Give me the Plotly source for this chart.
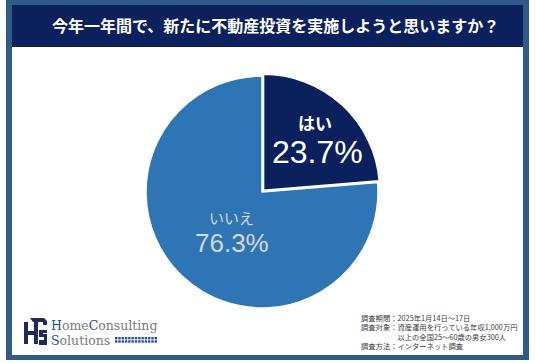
import plotly.graph_objects as go

W, H = 536, 363

title = "今年一年間で、新たに不動産投資を実施しようと思いますか？"
labels = ["はい", "いいえ"]
values = [23.7, 76.3]
colors = ["#0b215e", "#2e75b6"]
footer_lines = [
    "調査期間：2025年1月14日～17日",
    "調査対象：資産運用を行っている年収1,000万円",
    "　　　　　以上の全国25～60歳の男女300人",
    "調査方法：インターネット調査",
]

STEEL = "#2f5b89"
NAVY = "#0b215e"


def px(x):
    return x / W


def py(y):
    return 1 - y / H


def rect(x0, y0, x1, y1, color, layer="below"):
    return dict(type="rect", xref="paper", yref="paper",
                x0=px(x0), x1=px(x1), y0=py(y1), y1=py(y0),
                fillcolor=color, line=dict(width=0), layer=layer)


fig = go.Figure()

# pie geometry (pixels)
cx, cy, r, pull = 262, 192, 116, 0.02
half = r * (1 + pull)
fig.add_trace(go.Pie(
    labels=labels, values=values, sort=False, direction="clockwise",
    rotation=0, pull=[pull, 0], textinfo="none", hoverinfo="label+percent",
    marker=dict(colors=colors, line=dict(color="white", width=1.5)),
    domain=dict(x=[px(cx - half), px(cx + half)], y=[py(cy + half), py(cy - half)]),
    showlegend=False,
))

shapes = [
    rect(6, 0, 529, 360, STEEL),
    rect(12, 5, 523, 47, NAVY),
    rect(12, 47, 523, 355, "white"),
]

# logo grid of small squares
for row in range(2):
    for col in range(13):
        x0 = 115 + col * 3.3
        y0 = 337 + row * 3.3
        shapes.append(rect(x0, y0, x0 + 2.4, y0 + 2.4, "#2a4f9a", layer="above"))

# logo icon (stylised cube / HCS mark)
icon_paths = [
    "M 24 322 L 24 344 L 28 344 L 28 335 L 34 335 L 34 344 L 38 344 L 38 322 L 34 322 L 34 331 L 28 331 L 28 322 Z",
    "M 30 318 L 44 318 L 47 321 L 47 325 L 43 325 L 43 322 L 33 322 Z",
    "M 47 330 L 39 330 L 39 337 L 44 337 L 44 340 L 39 340 L 39 345 L 47 345 L 47 334 L 43 334 L 43 333 L 47 333 Z",
]
for p in icon_paths:
    parts = p.split()
    out = []
    i = 0
    while i < len(parts):
        t = parts[i]
        if t in ("M", "L"):
            x = float(parts[i + 1]); y = float(parts[i + 2])
            out.append(f"{t} {px(x):.5f} {py(y):.5f}")
            i += 3
        else:
            out.append(t)
            i += 1
    shapes.append(dict(type="path", xref="paper", yref="paper", path=" ".join(out),
                       fillcolor="#1c2a5c", line=dict(width=0), layer="above"))

ann = []
# title
ann.append(dict(text=f"<b>{title}</b>", x=px(275), y=py(25), xref="paper", yref="paper",
                showarrow=False, xanchor="center", yanchor="middle",
                font=dict(family="Noto Sans CJK JP", size=16, color="white")))

# slice labels
ann.append(dict(text=f"<b>{labels[0]}</b>", x=px(315), y=py(122), xref="paper", yref="paper",
                showarrow=False, xanchor="center", yanchor="middle",
                font=dict(family="Noto Sans CJK JP", size=17, color="white")))
ann.append(dict(text=f"{values[0]:.1f}%", x=px(317), y=py(152), xref="paper", yref="paper",
                showarrow=False, xanchor="center", yanchor="middle",
                font=dict(family="Liberation Sans", size=32, color="white")))
ann.append(dict(text=labels[1], x=px(232), y=py(217), xref="paper", yref="paper",
                showarrow=False, xanchor="center", yanchor="middle",
                font=dict(family="Noto Sans CJK JP", size=15, color="#d6d6d6")))
ann.append(dict(text=f"{values[1]:.1f}%", x=px(232), y=py(243), xref="paper", yref="paper",
                showarrow=False, xanchor="center", yanchor="middle",
                font=dict(family="Liberation Sans", size=26, color="#d6d6d6")))

# footer
ann.append(dict(text="<br>".join(footer_lines), x=px(359), y=py(311), xref="paper", yref="paper",
                showarrow=False, xanchor="left", yanchor="top", align="left",
                font=dict(family="Noto Sans CJK JP", size=7.3, color="#3a3a3a")))

# logo text
BLUE = "#1f4ea0"
GRAY = "#7a7a7a"
ann.append(dict(text=f"<span style='color:{BLUE}'>H</span>ome<span style='color:{BLUE}'>C</span>onsulting",
                x=px(49), y=py(325), xref="paper", yref="paper", showarrow=False,
                xanchor="left", yanchor="middle",
                font=dict(family="DejaVu Serif", size=12.5, color=GRAY)))
ann.append(dict(text=f"<span style='color:{BLUE}'>S</span>olutions",
                x=px(49), y=py(340.5), xref="paper", yref="paper", showarrow=False,
                xanchor="left", yanchor="middle",
                font=dict(family="DejaVu Serif", size=12.5, color=GRAY)))

fig.update_layout(
    width=W, height=H, margin=dict(l=0, r=0, t=0, b=0),
    paper_bgcolor="white", plot_bgcolor="white",
    shapes=shapes, annotations=ann,
)

fig.write_html("out.html", config={"displayModeBar": False},
               post_script="document.body.style.margin='0';")
